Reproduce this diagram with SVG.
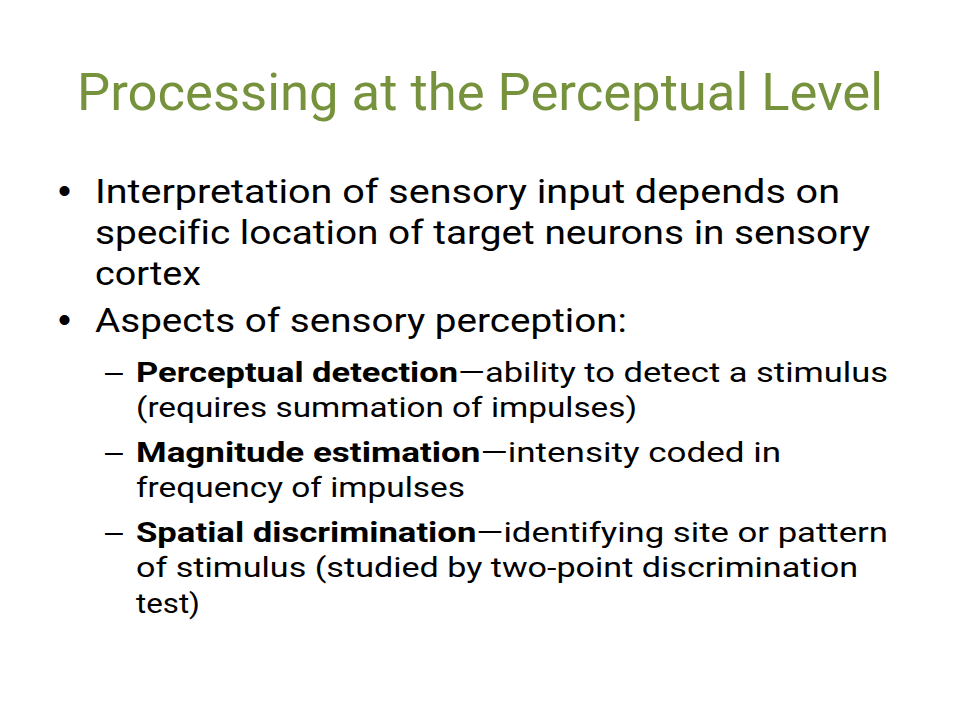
<svg xmlns="http://www.w3.org/2000/svg" width="960" height="720" viewBox="0 0 960 720">
<style>
text{font-family:Roboto,"Open Sans","Liberation Sans",sans-serif;fill:#000;font-variant-ligatures:none}
.title{font-size:52px;fill:#76923C}
.body{font-size:33px}
.sub{font-size:28.5px}
.b{font-weight:bold}
.mark{font-family:"Liberation Sans",Arial,sans-serif}
</style>
<rect width="960" height="720" fill="#fff"/>
<g id="title">
<text class="title" x="480" y="110" text-anchor="middle" textLength="806" lengthAdjust="spacingAndGlyphs">Processing at the Perceptual Level</text>
</g>
<g id="bullet1">
<text class="mark" x="58" y="203" font-size="37">•</text>
<text class="body" x="95" y="203" textLength="745" lengthAdjust="spacingAndGlyphs">Interpretation of sensory input depends on</text>
<text class="body" x="95" y="244" textLength="775" lengthAdjust="spacingAndGlyphs">specific location of target neurons in sensory</text>
<text class="body" x="95" y="285" textLength="106" lengthAdjust="spacingAndGlyphs">cortex</text>
</g>
<g id="bullet2">
<text class="mark" x="58" y="332" font-size="37">•</text>
<text class="body" x="95" y="332" textLength="532" lengthAdjust="spacingAndGlyphs">Aspects of sensory perception:</text>
</g>
<g id="sub1">
<text class="mark" x="105" y="382" font-size="32">–</text>
<text class="sub" x="136" y="382" textLength="752" lengthAdjust="spacingAndGlyphs"><tspan class="b">Perceptual detection</tspan>—ability to detect a stimulus</text>
<text class="sub" x="136" y="417" textLength="501" lengthAdjust="spacingAndGlyphs">(requires summation of impulses)</text>
</g>
<g id="sub2">
<text class="mark" x="105" y="462" font-size="32">–</text>
<text class="sub" x="136" y="462" textLength="645" lengthAdjust="spacingAndGlyphs"><tspan class="b">Magnitude estimation</tspan>—intensity coded in</text>
<text class="sub" x="136" y="497" textLength="329" lengthAdjust="spacingAndGlyphs">frequency of impulses</text>
</g>
<g id="sub3">
<text class="mark" x="105" y="542" font-size="32">–</text>
<text class="sub" x="136" y="542" textLength="752" lengthAdjust="spacingAndGlyphs"><tspan class="b">Spatial discrimination</tspan>—identifying site or pattern</text>
<text class="sub" x="136" y="577" textLength="722" lengthAdjust="spacingAndGlyphs">of stimulus (studied by two-point discrimination</text>
<text class="sub" x="136" y="613" textLength="64" lengthAdjust="spacingAndGlyphs">test)</text>
</g>
</svg>
